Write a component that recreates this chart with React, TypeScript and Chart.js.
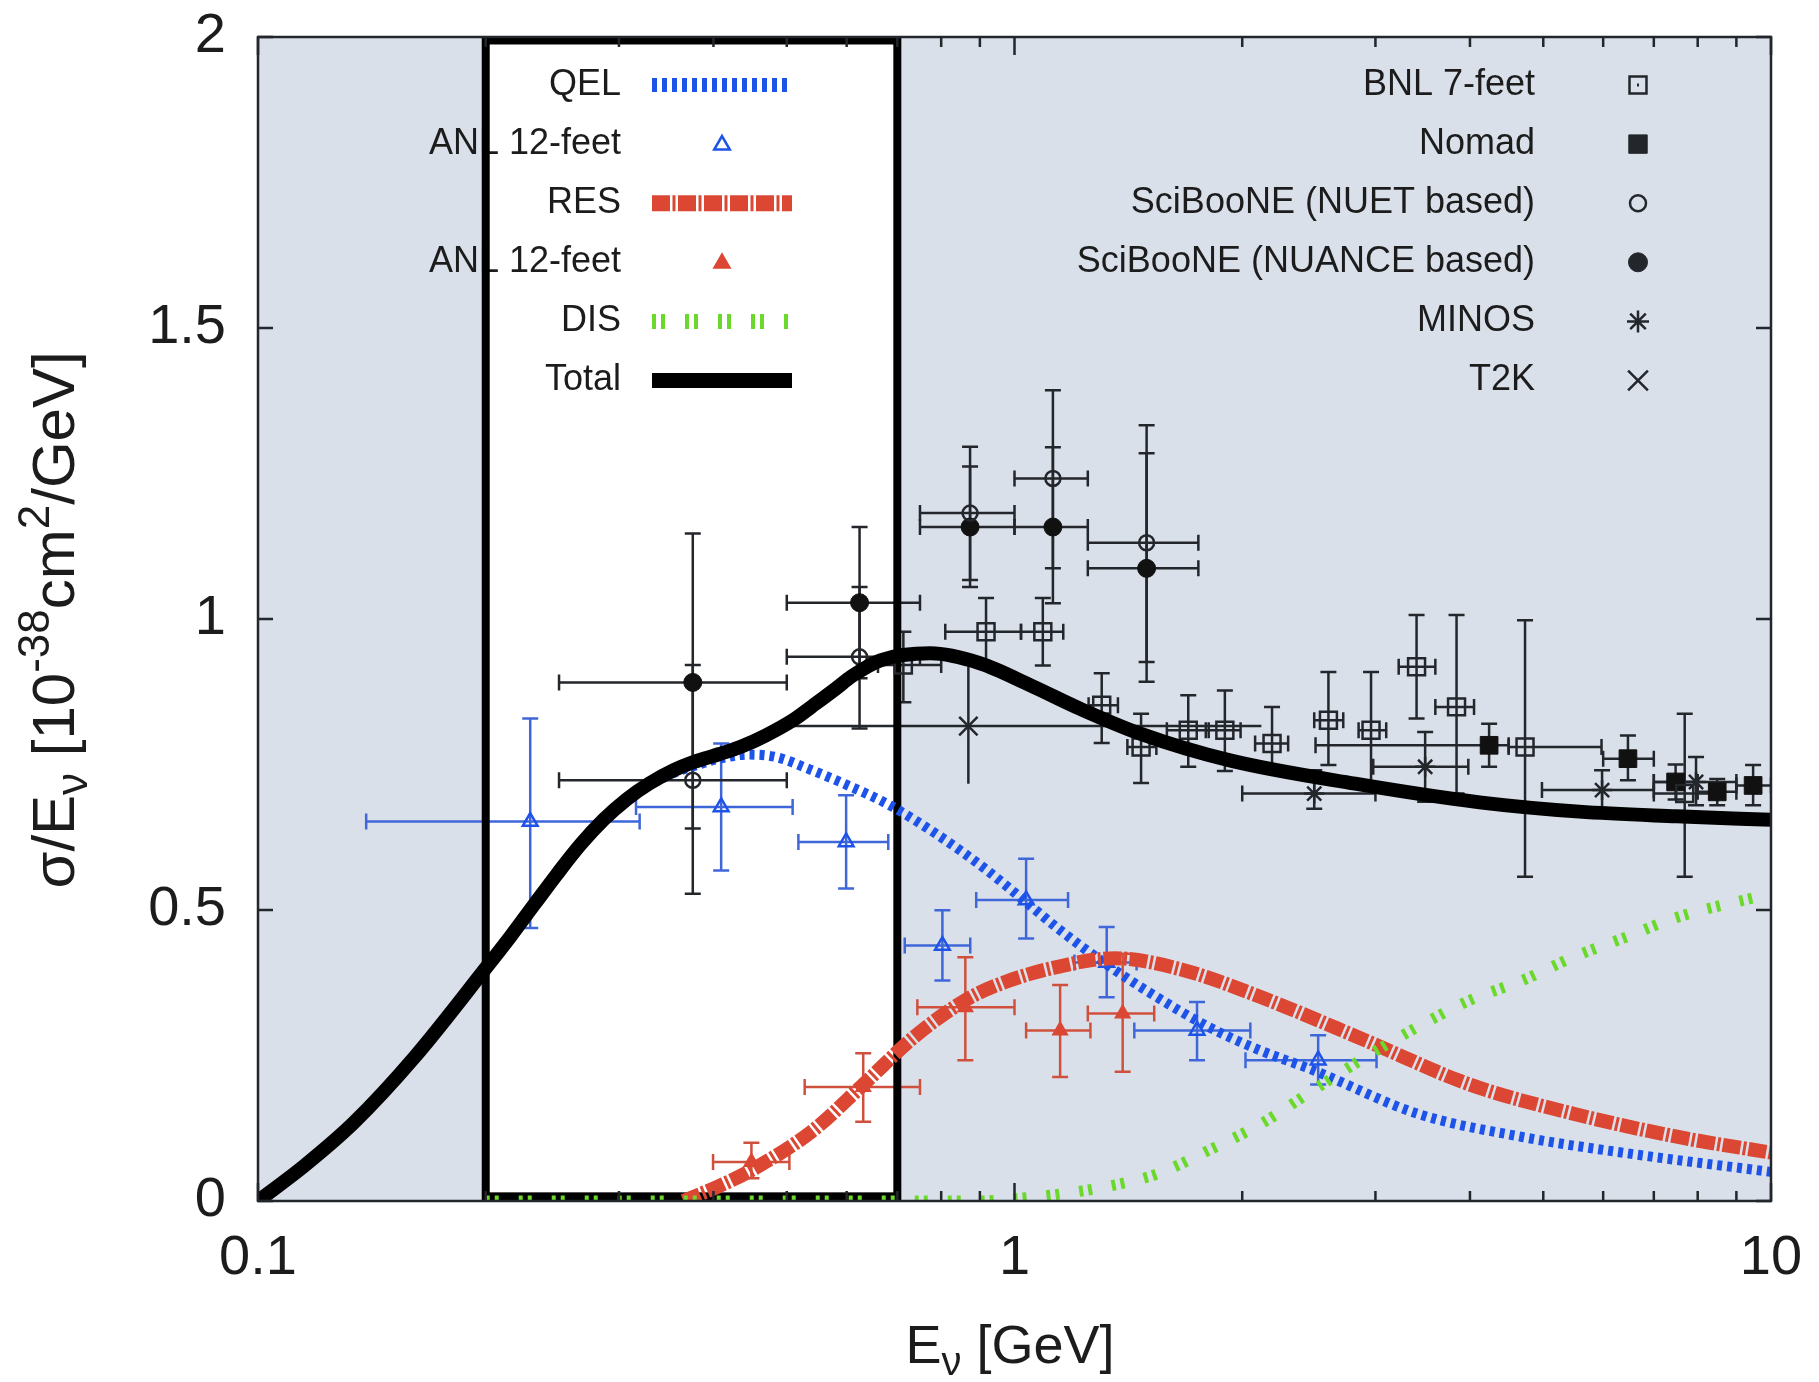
import React, { useEffect, useRef } from 'react';
import { Chart, registerables } from 'chart.js';

Chart.register(...registerables);

const W = 1819;
const H = 1382;
const FONT = "'Liberation Sans', Arial, Helvetica, sans-serif";

// ---------- axes ----------
const xMin = 0.1;
const xMax = 10;
const yMin = 0;
const yMax = 2;
const xTickValues = [0.1, 0.2, 0.3, 0.4, 0.5, 0.6, 0.7, 0.8, 0.9, 1, 2, 3, 4, 5, 6, 7, 8, 9, 10];
const xLabelValues = [0.1, 1, 10];
const xLabelTexts = ['0.1', '1', '10'];
const yTickValues = [0, 0.5, 1, 1.5, 2];
const yLabelTexts = ['0', '0.5', '1', '1.5', '2'];

// white highlighted box (energy range, sigma range)
const boxE = [0.2, 0.7];
const boxS = [0.008, 1.994];

// ---------- model curves ----------
const totalE = [0.1, 0.115, 0.1337, 0.161, 0.2, 0.2158, 0.232, 0.2486, 0.2667, 0.2862, 0.307, 0.3296, 0.354, 0.378, 0.4074, 0.4355, 0.469, 0.512, 0.54, 0.58, 0.61, 0.665, 0.774, 0.9, 1.05, 1.22, 1.466, 1.926, 2.82, 4.12, 5.58, 7.5, 10];
const totalS = [0, 0.06, 0.134, 0.247, 0.4, 0.455, 0.51, 0.562, 0.612, 0.655, 0.69, 0.718, 0.74, 0.755, 0.768, 0.781, 0.8, 0.828, 0.85, 0.88, 0.902, 0.929, 0.941, 0.924, 0.886, 0.846, 0.803, 0.757, 0.717, 0.685, 0.669, 0.661, 0.655];

const qelE = [0.1, 0.1337, 0.161, 0.2, 0.232, 0.2667, 0.307, 0.354, 0.378, 0.4074, 0.445, 0.483, 0.54, 0.6, 0.684, 0.8, 0.916, 1.0, 1.15, 1.315, 1.5, 1.806, 2.1, 2.48, 3.41, 4.69, 6.45, 10];
const qelS = [0, 0.134, 0.247, 0.4, 0.51, 0.612, 0.69, 0.735, 0.748, 0.76, 0.767, 0.763, 0.74, 0.715, 0.68, 0.625, 0.57, 0.53, 0.465, 0.409, 0.36, 0.299, 0.26, 0.225, 0.15, 0.11, 0.082, 0.05];

const resE = [0.365, 0.409, 0.449, 0.54, 0.631, 0.737, 0.861, 0.957, 1.12, 1.357, 1.67, 2.12, 2.91, 4.0, 5.48, 7.54, 10];
const resS = [0, 0.027, 0.053, 0.12, 0.2, 0.282, 0.345, 0.373, 0.4, 0.417, 0.397, 0.35, 0.276, 0.2, 0.15, 0.11, 0.083];

const disE = [0.2, 0.9, 1.0, 1.15, 1.315, 1.54, 1.806, 2.12, 2.48, 2.91, 3.41, 4.0, 4.69, 5.48, 6.45, 7.54, 10];
const disS = [0, 0, 0.004, 0.012, 0.024, 0.046, 0.087, 0.133, 0.19, 0.247, 0.299, 0.345, 0.379, 0.419, 0.454, 0.488, 0.528];

// ---------- measurements ----------
// ANL 12-feet (QEL)
const anlQelE = [0.229, 0.4095, 0.599, 0.803, 1.036, 1.324, 1.743, 2.52];
const anlQelS = [0.652, 0.677, 0.617, 0.439, 0.517, 0.41, 0.293, 0.242];
const anlQelElo = [0.139, 0.316, 0.518, 0.716, 0.89, 1.2, 1.44, 2.02];
const anlQelEhi = [0.3195, 0.509, 0.681, 0.874, 1.177, 1.45, 2.05, 3.01];
const anlQelSlo = [0.469, 0.568, 0.537, 0.379, 0.451, 0.35, 0.242, 0.2];
const anlQelShi = [0.829, 0.786, 0.697, 0.4995, 0.588, 0.471, 0.342, 0.285];

// ANL 12-feet (RES)
const anlResE = [0.449, 0.631, 0.861, 1.149, 1.39];
const anlResS = [0.067, 0.196, 0.333, 0.293, 0.322];
const anlResElo = [0.3995, 0.528, 0.744, 1.036, 1.25];
const anlResEhi = [0.504, 0.75, 1.0, 1.26, 1.53];
const anlResSlo = [0.039, 0.136, 0.242, 0.213, 0.222];
const anlResShi = [0.1, 0.254, 0.419, 0.371, 0.425];

// BNL 7-feet
const bnlE = [0.713, 0.917, 1.09, 1.304, 1.47, 1.697, 1.897, 2.19, 2.6, 2.96, 3.4, 3.84, 4.73, 7.69];
const bnlS = [0.921, 0.978, 0.978, 0.852, 0.78, 0.809, 0.809, 0.786, 0.826, 0.809, 0.918, 0.849, 0.78, 0.7];
const bnlElo = [0.66, 0.81, 1.02, 1.253, 1.41, 1.59, 1.79, 2.08, 2.49, 2.85, 3.22, 3.6, 4.5, 7.0];
const bnlEhi = [0.8, 1.02, 1.16, 1.37, 1.54, 1.806, 1.99, 2.3, 2.72, 3.1, 3.6, 4.05, 5.97, 8.5];
const bnlSlo = [0.857, 0.921, 0.92, 0.787, 0.718, 0.746, 0.739, 0.744, 0.749, 0.717, 0.829, 0.7, 0.557, 0.557];
const bnlShi = [0.978, 1.036, 1.036, 0.907, 0.837, 0.869, 0.877, 0.849, 0.909, 0.909, 1.007, 1.007, 0.998, 0.837];

// Nomad
const nomadE = [4.24, 6.47, 7.48, 8.49, 9.47];
const nomadS = [0.783, 0.76, 0.72, 0.703, 0.714];
const nomadElo = [2.5, 6.0, 7.0, 8.0, 9.0];
const nomadEhi = [4.5, 7.0, 8.0, 9.0, 10.0];
const nomadSlo = [0.746, 0.723, 0.69, 0.68, 0.68];
const nomadShi = [0.82, 0.8, 0.75, 0.725, 0.749];

// SciBooNE (NUET based)
const nuetE = [0.3756, 0.624, 0.8735, 1.124, 1.495];
const nuetS = [0.723, 0.935, 1.182, 1.2415, 1.131];
const nuetElo = [0.25, 0.5, 0.75, 1.0, 1.25];
const nuetEhi = [0.5, 0.75, 1.0, 1.25, 1.75];
const nuetSlo = [0.528, 0.812, 1.067, 1.087, 0.926];
const nuetShi = [0.921, 1.055, 1.296, 1.393, 1.333];

// SciBooNE (NUANCE based)
const nuanceE = [0.3756, 0.624, 0.8735, 1.124, 1.495];
const nuanceS = [0.891, 1.028, 1.158, 1.158, 1.087];
const nuanceElo = [0.25, 0.5, 0.75, 1.0, 1.25];
const nuanceEhi = [0.5, 0.75, 1.0, 1.25, 1.75];
const nuanceSlo = [0.64, 0.898, 1.055, 1.027, 0.892];
const nuanceShi = [1.147, 1.158, 1.262, 1.295, 1.285];

// MINOS
const minosE = [2.49, 3.49, 5.98, 7.96];
const minosS = [0.7, 0.746, 0.706, 0.72];
const minosElo = [2.0, 2.98, 4.98, 7.0];
const minosEhi = [3.0, 3.98, 7.0, 9.0];
const minosSlo = [0.674, 0.686, 0.672, 0.68];
const minosShi = [0.74, 0.806, 0.74, 0.763];

// T2K
const t2kE = [0.869];
const t2kS = [0.816];
const t2kElo = [0.503];
const t2kEhi = [2.12];
const t2kSlo = [0.717];
const t2kShi = [0.918];

// ---------- legend ----------
const legendLeftLabels = ['QEL', 'ANL 12-feet', 'RES', 'ANL 12-feet', 'DIS', 'Total'];
const legendRightLabels = ['BNL 7-feet', 'Nomad', 'SciBooNE (NUET based)', 'SciBooNE (NUANCE based)', 'MINOS', 'T2K'];

// ---------- styles ----------
const PLOT_BG = '#d9e0ea';
const BLUE = '#1d53e8';
const BLUE_ERR = '#3f67da';
const RED = '#dc4733';
const RED_ERR = '#d0503e';
const GREEN = '#6bd92b';
const DARK = '#23262b';
const TEXT = '#1c1c1c';

const QEL_DASH = [5, 5];
const RES_DASH = [18, 2.5, 3, 2.5];
const DIS_DASH = [4, 5, 4, 20];

function pts(E: number[], S: number[]) {
  return E.map((e, i) => ({ x: e, y: S[i] }));
}
function errPts(E: number[], S: number[], Elo: number[], Ehi: number[], Slo: number[], Shi: number[]) {
  return E.map((e, i) => ({ x: e, y: S[i], xMin: Elo[i], xMax: Ehi[i], yMin: Slo[i], yMax: Shi[i] }));
}

function drawMarker(ctx: CanvasRenderingContext2D, style: string, x: number, y: number, r: number, fill: string | null, stroke: string, lw: number) {
  ctx.save();
  ctx.lineWidth = lw;
  ctx.strokeStyle = stroke;
  ctx.setLineDash([]);
  ctx.beginPath();
  if (style === 'rect') {
    const s = r * Math.SQRT1_2;
    ctx.rect(x - s, y - s, 2 * s, 2 * s);
  } else if (style === 'circle') {
    ctx.arc(x, y, r, 0, Math.PI * 2);
  } else if (style === 'triangle') {
    let a = 0;
    ctx.moveTo(x + Math.sin(a) * r, y - Math.cos(a) * r);
    a += (2 * Math.PI) / 3;
    ctx.lineTo(x + Math.sin(a) * r, y - Math.cos(a) * r);
    a += (2 * Math.PI) / 3;
    ctx.lineTo(x + Math.sin(a) * r, y - Math.cos(a) * r);
    ctx.closePath();
  } else if (style === 'crossRot' || style === 'star') {
    const d = r * Math.SQRT1_2;
    ctx.moveTo(x - d, y - d); ctx.lineTo(x + d, y + d);
    ctx.moveTo(x - d, y + d); ctx.lineTo(x + d, y - d);
    if (style === 'star') {
      ctx.moveTo(x, y - r); ctx.lineTo(x, y + r);
      ctx.moveTo(x - r, y); ctx.lineTo(x + r, y);
    }
  }
  if (fill) {
    ctx.fillStyle = fill;
    ctx.fill();
  }
  ctx.stroke();
  ctx.restore();
}

type Run = { t: string; s: number; dy: number };
function drawRuns(ctx: CanvasRenderingContext2D, runs: Run[], cx: number, baseY: number) {
  let total = 0;
  const widths = runs.map((r) => {
    ctx.font = `${r.s}px ${FONT}`;
    const w = ctx.measureText(r.t).width;
    total += w;
    return w;
  });
  let x = cx - total / 2;
  ctx.textAlign = 'left';
  ctx.textBaseline = 'alphabetic';
  runs.forEach((r, i) => {
    ctx.font = `${r.s}px ${FONT}`;
    ctx.fillText(r.t, x, baseY + r.dy);
    x += widths[i];
  });
}

const xTitleRuns: Run[] = [
  { t: 'E', s: 54, dy: 0 },
  { t: 'ν', s: 40, dy: 12 },
  { t: ' [GeV]', s: 54, dy: 0 },
];
const yTitleRuns: Run[] = [
  { t: 'σ/E', s: 60, dy: 0 },
  { t: 'ν', s: 44, dy: 13 },
  { t: ' [10', s: 60, dy: 0 },
  { t: '-38', s: 44, dy: -25 },
  { t: 'cm', s: 60, dy: 0 },
  { t: '2', s: 44, dy: -25 },
  { t: '/GeV]', s: 60, dy: 0 },
];

const decorPlugin = {
  id: 'decor',
  beforeDatasetsDraw(chart: any) {
    const { ctx, chartArea: a } = chart;
    const xs = chart.scales.x;
    const ys = chart.scales.y;
    ctx.save();
    ctx.fillStyle = PLOT_BG;
    ctx.fillRect(a.left, a.top, a.right - a.left, a.bottom - a.top);
    const bx0 = xs.getPixelForValue(boxE[0]);
    const bx1 = xs.getPixelForValue(boxE[1]);
    const byB = ys.getPixelForValue(boxS[0]);
    const byT = ys.getPixelForValue(boxS[1]);
    ctx.fillStyle = '#ffffff';
    ctx.fillRect(bx0, byT, bx1 - bx0, byB - byT);

    // ---- legend ----
    const rowY = (i: number) => 85 + 59.1 * i;
    ctx.fillStyle = TEXT;
    ctx.font = `36px ${FONT}`;
    ctx.textAlign = 'right';
    ctx.textBaseline = 'middle';
    legendLeftLabels.forEach((t, i) => ctx.fillText(t, 621, rowY(i)));
    legendRightLabels.forEach((t, i) => ctx.fillText(t, 1535, rowY(i)));

    const sx0 = 652;
    const sx1 = 792;
    const sample = (i: number, color: string, width: number, dash: number[]) => {
      ctx.save();
      ctx.strokeStyle = color;
      ctx.lineWidth = width;
      ctx.lineCap = 'butt';
      ctx.setLineDash(dash);
      ctx.beginPath();
      ctx.moveTo(sx0, rowY(i));
      ctx.lineTo(sx1, rowY(i));
      ctx.stroke();
      ctx.restore();
    };
    sample(0, BLUE, 14, QEL_DASH);
    drawMarker(ctx, 'triangle', 722, rowY(1) + 1, 9, null, BLUE, 2.5);
    sample(2, RED, 16, RES_DASH);
    drawMarker(ctx, 'triangle', 722, rowY(3) + 1, 9, RED, RED, 2);
    sample(4, GREEN, 15, DIS_DASH);
    sample(5, '#000', 15, []);

    const mx = 1638;
    drawMarker(ctx, 'rect', mx, rowY(0), 12, null, DARK, 2.5);
    ctx.fillStyle = DARK;
    ctx.fillRect(mx - 1, rowY(0) - 1.5, 2, 3);
    drawMarker(ctx, 'rect', mx, rowY(1), 13, DARK, DARK, 1);
    drawMarker(ctx, 'circle', mx, rowY(2), 8, null, DARK, 2.5);
    drawMarker(ctx, 'circle', mx, rowY(3), 9.5, DARK, DARK, 1);
    drawMarker(ctx, 'star', mx, rowY(4), 11, null, DARK, 2.5);
    drawMarker(ctx, 'crossRot', mx, rowY(5), 14, null, DARK, 2.5);

    // ---- error bars ----
    ctx.save();
    ctx.beginPath();
    ctx.rect(a.left, a.top, a.right - a.left, a.bottom - a.top);
    ctx.clip();
    chart.data.datasets.forEach((ds: any) => {
      const eb = ds.errorBars;
      if (!eb) return;
      ctx.strokeStyle = eb.color;
      ctx.lineWidth = eb.width;
      ctx.setLineDash([]);
      const c = eb.cap;
      ds.data.forEach((p: any) => {
        const px = xs.getPixelForValue(p.x);
        const py = ys.getPixelForValue(p.y);
        const xl = xs.getPixelForValue(p.xMin);
        const xr = xs.getPixelForValue(p.xMax);
        const yt = ys.getPixelForValue(p.yMax);
        const yb = ys.getPixelForValue(p.yMin);
        ctx.beginPath();
        ctx.moveTo(xl, py); ctx.lineTo(xr, py);
        ctx.moveTo(px, yt); ctx.lineTo(px, yb);
        if (c > 0) {
          ctx.moveTo(xl, py - c); ctx.lineTo(xl, py + c);
          ctx.moveTo(xr, py - c); ctx.lineTo(xr, py + c);
          ctx.moveTo(px - c, yt); ctx.lineTo(px + c, yt);
          ctx.moveTo(px - c, yb); ctx.lineTo(px + c, yb);
        }
        ctx.stroke();
      });
    });
    ctx.restore();

    // ---- box border (under the curves) ----
    ctx.strokeStyle = '#000';
    ctx.lineWidth = 8;
    ctx.setLineDash([]);
    ctx.strokeRect(bx0, byT, bx1 - bx0, byB - byT);
    ctx.restore();
  },
  afterDatasetsDraw(chart: any) {
    const { ctx, chartArea: a } = chart;
    const xs = chart.scales.x;
    const ys = chart.scales.y;
    ctx.save();

    // ---- frame and inward ticks ----
    ctx.strokeStyle = DARK;
    ctx.lineWidth = 2.5;
    ctx.setLineDash([]);
    ctx.strokeRect(a.left, a.top, a.right - a.left, a.bottom - a.top);
    ctx.beginPath();
    xTickValues.forEach((v) => {
      const px = xs.getPixelForValue(v);
      const len = xLabelValues.includes(v) ? 18 : 10;
      ctx.moveTo(px, a.bottom); ctx.lineTo(px, a.bottom - len);
      ctx.moveTo(px, a.top); ctx.lineTo(px, a.top + len);
    });
    yTickValues.forEach((v) => {
      const py = ys.getPixelForValue(v);
      ctx.moveTo(a.left, py); ctx.lineTo(a.left + 15, py);
      ctx.moveTo(a.right, py); ctx.lineTo(a.right - 15, py);
    });
    ctx.stroke();

    // ---- axis titles ----
    ctx.fillStyle = TEXT;
    drawRuns(ctx, xTitleRuns, 1010, 1363);
    ctx.translate(74, 620);
    ctx.rotate(-Math.PI / 2);
    drawRuns(ctx, yTitleRuns, 0, 0);
    ctx.restore();
  },
};

export default function App() {
  const ref = useRef<HTMLCanvasElement | null>(null);
  useEffect(() => {
    if (!ref.current) return;
    const curve = (label: string, E: number[], S: number[], color: string, width: number, dash: number[], order: number, cap: CanvasLineCap) => ({
      label,
      data: pts(E, S),
      showLine: true,
      borderColor: color,
      backgroundColor: color,
      borderWidth: width,
      borderDash: dash,
      borderCapStyle: cap,
      borderJoinStyle: 'round',
      pointRadius: 0,
      cubicInterpolationMode: 'monotone',
      order,
    });
    const marks = (label: string, data: any[], style: string, r: number, fill: string, stroke: string, bw: number, err: any, order: number) => ({
      label,
      data,
      showLine: false,
      pointStyle: style,
      pointRadius: r,
      pointBackgroundColor: fill,
      pointBorderColor: stroke,
      pointBorderWidth: bw,
      errorBars: err,
      order,
    });
    const blackErr = { color: DARK, width: 2.5, cap: 8 };
    const chart = new Chart(ref.current, {
      type: 'scatter',
      data: {
        datasets: [
          curve('Total', totalE, totalS, '#000000', 14, [], 0, 'round'),
          curve('DIS', disE, disS, GREEN, 11, DIS_DASH, 1, 'butt'),
          curve('RES', resE, resS, RED, 14, RES_DASH, 2, 'butt'),
          curve('QEL', qelE, qelS, BLUE, 10, QEL_DASH, 3, 'butt'),
          marks('ANL 12-feet (QEL)', errPts(anlQelE, anlQelS, anlQelElo, anlQelEhi, anlQelSlo, anlQelShi), 'triangle', 8.5, 'rgba(0,0,0,0)', BLUE, 2.5, { color: BLUE_ERR, width: 2.5, cap: 8 }, 5),
          marks('ANL 12-feet (RES)', errPts(anlResE, anlResS, anlResElo, anlResEhi, anlResSlo, anlResShi), 'triangle', 8.5, RED, RED, 1.5, { color: RED_ERR, width: 2.5, cap: 8 }, 5),
          marks('BNL 7-feet', errPts(bnlE, bnlS, bnlElo, bnlEhi, bnlSlo, bnlShi), 'rect', 12, 'rgba(0,0,0,0)', DARK, 2.5, blackErr, 6),
          marks('Nomad', errPts(nomadE, nomadS, nomadElo, nomadEhi, nomadSlo, nomadShi), 'rect', 12.5, '#111111', '#111111', 1, blackErr, 6),
          marks('SciBooNE (NUET based)', errPts(nuetE, nuetS, nuetElo, nuetEhi, nuetSlo, nuetShi), 'circle', 7.5, 'rgba(0,0,0,0)', DARK, 2.5, blackErr, 6),
          marks('SciBooNE (NUANCE based)', errPts(nuanceE, nuanceS, nuanceElo, nuanceEhi, nuanceSlo, nuanceShi), 'circle', 9, '#111111', '#111111', 1, blackErr, 6),
          marks('MINOS', errPts(minosE, minosS, minosElo, minosEhi, minosSlo, minosShi), 'star', 10, 'rgba(0,0,0,0)', DARK, 2.5, blackErr, 6),
          marks('T2K', errPts(t2kE, t2kS, t2kElo, t2kEhi, t2kSlo, t2kShi), 'crossRot', 13, 'rgba(0,0,0,0)', DARK, 2.5, { color: DARK, width: 2.5, cap: 0 }, 6),
        ] as any,
      },
      options: {
        responsive: false,
        animation: false,
        events: [],
        layout: { padding: { left: 0, right: 48, top: 37, bottom: 0 } },
        plugins: {
          legend: { display: false },
          tooltip: { enabled: false },
          title: { display: false },
        },
        scales: {
          x: {
            type: 'logarithmic',
            min: xMin,
            max: xMax,
            grid: { display: false, drawTicks: false },
            border: { display: false },
            afterBuildTicks: (s: any) => {
              s.ticks = xTickValues.map((v) => ({ value: v }));
            },
            afterFit: (s: any) => {
              s.height = H - 1201;
              s.paddingLeft = 0;
              s.paddingRight = 0;
              s.paddingTop = 0;
              s.paddingBottom = 0;
            },
            ticks: {
              autoSkip: false,
              maxRotation: 0,
              minRotation: 0,
              padding: 24,
              color: TEXT,
              font: { family: FONT, size: 56 },
              callback: (v: any) => {
                const k = xLabelValues.findIndex((q) => Math.abs(q - Number(v)) < 1e-9);
                return k >= 0 ? xLabelTexts[k] : '';
              },
            },
          },
          y: {
            type: 'linear',
            min: yMin,
            max: yMax,
            grid: { display: false, drawTicks: false },
            border: { display: false },
            afterBuildTicks: (s: any) => {
              s.ticks = yTickValues.map((v) => ({ value: v }));
            },
            afterFit: (s: any) => {
              s.width = 258;
              s.paddingLeft = 0;
              s.paddingRight = 0;
              s.paddingTop = 0;
              s.paddingBottom = 0;
            },
            ticks: {
              padding: 32,
              color: TEXT,
              font: { family: FONT, size: 56 },
              callback: (v: any) => {
                const k = yTickValues.findIndex((q) => Math.abs(q - Number(v)) < 1e-9);
                return k >= 0 ? yLabelTexts[k] : '';
              },
            },
          },
        },
      } as any,
      plugins: [decorPlugin as any],
    });
    return () => chart.destroy();
  }, []);

  return (
    <div style={{ position: 'absolute', left: 0, top: 0, width: W, height: H, background: '#ffffff' }}>
      <canvas ref={ref} width={W} height={H} style={{ display: 'block', width: W, height: H }} />
    </div>
  );
}
